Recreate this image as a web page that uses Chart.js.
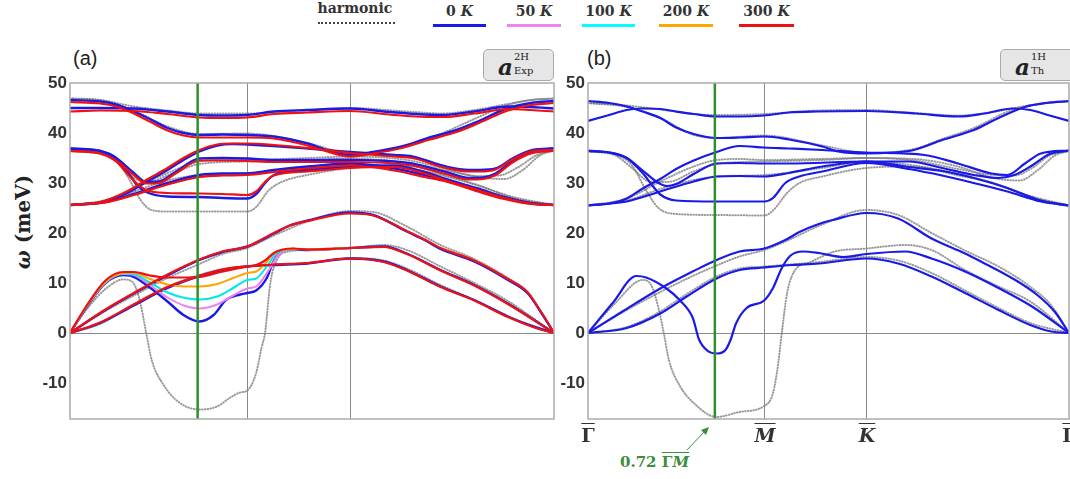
<!DOCTYPE html>
<html>
<head>
<meta charset="utf-8">
<script src="https://cdn.jsdelivr.net/npm/chart.js@4.4.1/dist/chart.umd.min.js"></script>
<style>
  body { margin: 0; width: 1070px; height: 479px; overflow: hidden; position: relative; background: #fff; }
  canvas { position: absolute; }
  .serif { font-family: "DejaVu Serif", serif; font-weight: bold; color: #333; }
  .lg { position: absolute; text-align: center; font-size: 14px; top: 3px; }
  .lg .bar { position: absolute; left: 0; right: 0; top: 21px; height: 3px; }
  .tag { position: absolute; top: 49px; height: 32px; background: #e6e6e6; border: 1px solid #aaa; border-radius: 5px; box-sizing: border-box; }
  .tag .a { position: absolute; left: 14px; top: 3px; font: italic bold 23px "DejaVu Serif", serif; color: #222; }
  .tag .sp { position: absolute; left: 30px; top: 1px; font: 10px "DejaVu Serif", serif; color: #222; }
  .tag .sb { position: absolute; left: 30px; top: 15px; font: 10px "DejaVu Serif", serif; color: #222; }
  .pl { position: absolute; top: 47px; font: 20px "Liberation Sans", Arial, sans-serif; color: #222; }
  .xl { position: absolute; top: 424px; transform: translateX(-50%); font-size: 19px; text-decoration: overline; }
</style>
</head>
<body>

<!-- legend -->
<div class="lg serif" style="left:315px;width:80px;top:0px;">harmonic
  <div style="position:absolute;left:3px;right:0;top:22px;border-top:2px dotted #444;"></div></div>
<div class="lg serif" style="left:433px;width:53px;">0 <i>K</i><div class="bar" style="background:#1a1ae6"></div></div>
<div class="lg serif" style="left:507px;width:54px;">50 <i>K</i><div class="bar" style="background:#ee82ee"></div></div>
<div class="lg serif" style="left:582px;width:53px;">100 <i>K</i><div class="bar" style="background:#00ffff"></div></div>
<div class="lg serif" style="left:659px;width:54px;">200 <i>K</i><div class="bar" style="background:#ffa500"></div></div>
<div class="lg serif" style="left:739px;width:55px;">300 <i>K</i><div class="bar" style="background:#ee1111"></div></div>

<div class="pl" style="left:73px;">(a)</div>
<div class="pl" style="left:587px;">(b)</div>

<div class="tag" style="left:483px;width:71px;"><span class="a">a</span><span class="sp">2H</span><span class="sb">Exp</span></div>
<div class="tag" style="left:1000px;width:76px;"><span class="a">a</span><span class="sp">1H</span><span class="sb">Th</span></div>

<div class="serif" style="position:absolute;left:23px;top:222px;transform:translate(-50%,-50%) rotate(-90deg);font-size:20px;white-space:nowrap;color:#222;"><i>ω</i> (meV)</div>

<canvas id="panelA" width="562" height="400" style="left:0;top:40px;"></canvas>
<canvas id="panelB" width="530" height="400" style="left:540px;top:40px;"></canvas>

<div class="xl serif" style="left:588px;">Γ</div>
<div class="xl serif" style="left:765px;"><i>M</i></div>
<div class="xl serif" style="left:867px;"><i>K</i></div>
<div class="xl serif" style="left:1069px;">Γ</div>

<div class="serif" style="position:absolute;left:620px;top:453px;font-size:15px;color:#3c8c3c;white-space:nowrap;">0.72 <span style="text-decoration:overline;">Γ<i>M</i></span></div>
<svg width="1070" height="479" style="position:absolute;left:0;top:0;pointer-events:none;">
  <line x1="687" y1="450" x2="705" y2="431" stroke="#3c8c3c" stroke-width="1"/>
  <polygon points="709,427 701,430 706,435" fill="#3c8c3c"/>
</svg>

<script>
// path: Γ (0) - M (1) - K (1.58) - Γ (2.73), energies in meV
const kTicks = [0, 1, 1.58, 2.73];
const kGreen = 0.72;
const yTicks = [-10, 0, 10, 20, 30, 40, 50];
const yMin = -17.2, yMax = 50;

// ---------- panel (a): a_Exp(2H) ----------
// harmonic
const aH_A1 = [[0,0],[0.17,1.8],[0.36,5.8],[0.55,9.3],[0.73,11.6],[0.86,12.8],[1.0,13.4],[1.34,14.0],[1.58,15.0],[1.77,14.5],[1.9,12.9],[2.09,9.6],[2.28,6.6],[2.47,3.3],[2.73,0]];
const aH_A3 = [[0,0],[0.2,4.4],[0.36,7.5],[0.55,11.0],[0.73,13.8],[0.86,15.8],[1.0,17.0],[1.15,19.5],[1.34,22.3],[1.58,24.4],[1.71,24.2],[1.9,21.3],[2.09,17.6],[2.28,14.8],[2.47,11.0],[2.58,8.2],[2.65,4.6],[2.73,0]];
const aH_soft = [[0,0],[0.1,5.0],[0.2,8.8],[0.3,10.7],[0.35,10.3],[0.39,7.0],[0.43,0],[0.46,-5.3],[0.53,-10.5],[0.62,-14.0],[0.73,-15.3],[0.83,-14.7],[0.9,-13.0],[0.96,-11.9],[1.0,-11.5],[1.05,-8.0],[1.08,-3.0],[1.1,0],[1.13,10],[1.17,14.8],[1.22,16.2],[1.34,16.6],[1.58,17.0],[1.77,17.6],[1.9,16.6],[2.09,13.3],[2.28,10.0],[2.47,6.4],[2.73,0]];
const aH_O1 = [[0,46.9],[0.17,46.6],[0.36,44.5],[0.55,41.3],[0.73,39.8],[1.0,39.9],[1.34,38.0],[1.58,36.0],[1.87,37.0],[2.09,39.8],[2.28,42.8],[2.47,45.6],[2.6,46.6],[2.73,46.9]];
const aH_O2 = [[0,46.9],[0.17,46.6],[0.36,45.3],[0.55,44.5],[0.73,43.9],[1.0,43.9],[1.34,44.6],[1.58,45.0],[1.9,44.3],[2.1,43.9],[2.28,44.6],[2.47,45.8],[2.6,46.6],[2.73,46.9]];
const aH_hump = [[0,25.6],[0.2,26.6],[0.36,29.0],[0.55,32.0],[0.73,34.3],[0.86,34.6],[1.0,34.6],[1.34,35.0],[1.58,35.3],[1.9,34.6],[2.12,32.8],[2.3,31.2],[2.45,30.8],[2.55,32.5],[2.65,35.5],[2.73,36.6]];
const aH_gentle = [[0,25.6],[0.2,26.4],[0.36,28.3],[0.55,30.5],[0.73,31.6],[1.0,32.0],[1.34,33.0],[1.58,33.8],[1.9,33.0],[2.12,31.3],[2.3,29.5],[2.5,27.2],[2.73,25.6]];
const aH_dip = [[0,36.6],[0.17,36.0],[0.26,34.5],[0.36,31.0],[0.45,30.3],[0.55,31.5],[0.73,33.8],[1.0,34.3],[1.34,34.6],[1.58,34.9],[1.9,34.0],[2.12,32.5],[2.3,31.4],[2.42,31.5],[2.52,33.0],[2.63,35.5],[2.73,36.6]];
const aH_drop = [[0,36.6],[0.17,36.2],[0.26,34.5],[0.33,31.0],[0.4,26.5],[0.46,24.6],[0.55,24.3],[0.73,24.3],[1.0,24.3],[1.05,25.2],[1.12,28.5],[1.2,30.3],[1.34,31.6],[1.58,33.0],[1.9,33.4],[2.12,31.5],[2.3,29.6],[2.5,27.0],[2.73,25.6]];

// 0 K
const aA1_0K = [[0,0],[0.17,2.0],[0.36,5.5],[0.55,9.0],[0.73,11.4],[0.86,12.6],[1.0,13.3],[1.15,13.6],[1.34,13.9],[1.58,14.9],[1.77,14.3],[1.9,12.6],[2.09,9.3],[2.28,6.6],[2.47,3.3],[2.62,1.2],[2.73,0]];
const aA3_0K = [[0,0],[0.2,4.6],[0.36,7.9],[0.55,11.5],[0.73,14.6],[0.86,16.2],[1.0,17.3],[1.07,18.4],[1.15,19.9],[1.24,21.5],[1.34,22.5],[1.58,24.1],[1.71,23.6],[1.9,20.3],[2.0,18.6],[2.09,16.8],[2.28,14.3],[2.47,10.6],[2.58,8.0],[2.65,4.5],[2.73,0]];
const aSoft_0K = [[0,0],[0.1,5.5],[0.2,10.0],[0.3,11.6],[0.34,11.5],[0.45,9.1],[0.55,6.3],[0.64,3.6],[0.73,2.3],[0.81,3.6],[0.88,6.6],[0.96,7.7],[1.0,8.0],[1.05,8.5],[1.11,11.0],[1.15,14.5],[1.2,16.4],[1.26,16.8],[1.34,16.6],[1.58,17.0],[1.77,17.3],[1.9,15.9],[2.09,12.6],[2.28,9.6],[2.47,5.9],[2.73,0]];
const aO1_0K = [[0,46.6],[0.17,46.3],[0.26,45.7],[0.36,44.3],[0.45,42.8],[0.55,41.0],[0.64,40.0],[0.73,39.6],[0.86,39.7],[1.0,39.6],[1.15,39.3],[1.34,37.9],[1.45,36.6],[1.58,35.6],[1.71,36.2],[1.87,37.3],[2.02,39.0],[2.18,40.6],[2.3,42.3],[2.47,45.0],[2.6,46.0],[2.73,46.4]];
const aO2_0K = [[0,45.0],[0.17,45.0],[0.36,44.9],[0.55,44.3],[0.73,43.6],[0.86,43.5],[1.0,43.6],[1.15,44.3],[1.34,44.6],[1.58,44.9],[1.8,44.2],[1.95,43.8],[2.1,43.6],[2.28,44.3],[2.47,45.3],[2.6,45.2],[2.73,44.9]];
const aHump_0K = [[0,25.6],[0.17,26.1],[0.3,27.6],[0.45,30.6],[0.55,32.6],[0.64,34.6],[0.73,36.3],[0.83,37.5],[0.92,37.8],[1.0,37.7],[1.15,37.4],[1.34,36.9],[1.58,36.2],[1.83,35.6],[1.93,35.3],[2.12,33.3],[2.25,32.6],[2.31,32.6],[2.4,32.9],[2.5,35.0],[2.61,36.6],[2.73,36.9]];
const aDip_0K = [[0,36.9],[0.17,36.4],[0.26,35.0],[0.36,32.0],[0.43,30.2],[0.5,30.3],[0.6,32.3],[0.73,34.9],[0.86,35.0],[1.0,34.9],[1.15,34.6],[1.34,34.6],[1.58,34.6],[1.83,34.3],[1.93,33.9],[2.12,32.2],[2.25,31.0],[2.33,31.1],[2.4,31.9],[2.5,34.5],[2.6,36.3],[2.73,36.9]];
const aGentle_0K = [[0,25.6],[0.2,26.2],[0.36,27.8],[0.55,30.0],[0.73,31.6],[0.86,31.9],[1.0,31.9],[1.15,32.6],[1.34,33.3],[1.58,33.9],[1.83,32.9],[2.0,31.6],[2.12,30.6],[2.3,28.6],[2.45,27.0],[2.6,25.9],[2.73,25.6]];
const aDrop_0K = [[0,36.9],[0.17,36.4],[0.26,35.0],[0.33,32.0],[0.38,29.5],[0.43,28.2],[0.55,27.3],[0.73,27.2],[0.86,27.0],[1.0,26.9],[1.05,27.8],[1.1,30.0],[1.15,31.6],[1.34,32.6],[1.58,33.3],[1.83,33.5],[2.0,32.2],[2.12,30.8],[2.3,28.9],[2.45,27.2],[2.6,26.0],[2.73,25.6]];

// 50 K, 100 K, 200 K (soft branch)
const aSoft_50K = [[0,0],[0.1,5.6],[0.2,10.1],[0.3,11.8],[0.36,11.6],[0.45,9.6],[0.55,7.1],[0.65,5.4],[0.73,4.9],[0.83,5.7],[0.92,7.5],[1.0,8.9],[1.05,9.3],[1.12,12.5],[1.17,15.4],[1.22,16.6],[1.3,16.8],[1.4,16.7],[1.58,17.0]];
const aSoft_100K = [[0,0],[0.1,5.7],[0.2,10.2],[0.3,11.9],[0.36,11.8],[0.45,10.1],[0.55,8.1],[0.65,7.0],[0.73,6.7],[0.83,7.3],[0.92,9.0],[1.0,10.6],[1.05,10.9],[1.11,13.3],[1.16,15.8],[1.22,16.6],[1.3,16.8],[1.4,16.7],[1.58,17.0]];
const aSoft_200K = [[0,0],[0.1,5.7],[0.2,10.3],[0.3,12.0],[0.36,12.1],[0.45,10.8],[0.55,9.7],[0.65,9.3],[0.73,9.3],[0.83,9.8],[0.92,11.0],[1.0,12.0],[1.05,12.3],[1.1,13.8],[1.15,15.9],[1.22,16.7],[1.3,16.8],[1.4,16.7],[1.58,17.0]];

// 300 K
const aA1_300K = [[0,0],[0.17,2.1],[0.36,5.7],[0.55,9.2],[0.73,11.4],[0.86,12.7],[1.0,13.3],[1.15,13.7],[1.34,14.0],[1.58,14.9],[1.77,14.2],[1.9,12.5],[2.09,9.2],[2.28,6.5],[2.47,3.2],[2.62,1.1],[2.73,0]];
const aA3_300K = [[0,0],[0.2,4.7],[0.36,8.0],[0.55,11.7],[0.73,14.7],[0.86,16.3],[1.0,17.3],[1.07,18.5],[1.15,20.0],[1.24,21.5],[1.34,22.4],[1.58,23.9],[1.71,23.5],[1.9,20.4],[2.0,18.7],[2.09,17.0],[2.28,14.5],[2.47,10.8],[2.58,8.2],[2.65,4.6],[2.73,0]];
const aSoft_300K = [[0,0],[0.1,5.8],[0.2,10.5],[0.3,12.2],[0.36,12.2],[0.45,11.5],[0.55,11.1],[0.73,11.2],[0.85,12.2],[1.0,13.3],[1.05,13.6],[1.1,14.5],[1.15,16.0],[1.2,16.7],[1.26,16.9],[1.34,16.7],[1.58,17.0],[1.77,17.2],[1.9,15.8],[2.09,12.5],[2.28,9.5],[2.47,5.8],[2.73,0]];
const aO1_300K = [[0,46.2],[0.17,45.9],[0.26,45.3],[0.36,43.9],[0.45,42.3],[0.55,40.5],[0.64,39.5],[0.73,39.1],[0.86,39.1],[1.0,39.1],[1.15,38.9],[1.34,37.5],[1.45,36.3],[1.58,35.3],[1.71,35.9],[1.87,37.0],[2.02,38.6],[2.18,40.2],[2.3,41.9],[2.47,44.5],[2.6,45.6],[2.73,46.0]];
const aO2_300K = [[0,44.3],[0.17,44.5],[0.36,44.4],[0.55,43.8],[0.73,43.1],[0.86,43.0],[1.0,43.1],[1.15,43.8],[1.34,44.1],[1.58,44.4],[1.8,43.7],[1.95,43.3],[2.1,43.2],[2.28,43.9],[2.47,44.8],[2.6,44.6],[2.73,44.3]];
const aHump_300K = [[0,25.6],[0.17,26.2],[0.3,27.9],[0.45,31.0],[0.55,33.0],[0.64,35.0],[0.73,36.6],[0.83,37.7],[0.92,37.9],[1.0,37.9],[1.15,37.6],[1.34,37.0],[1.58,36.0],[1.83,35.3],[1.93,35.0],[2.12,33.0],[2.25,32.3],[2.31,32.3],[2.4,32.7],[2.5,34.8],[2.61,36.4],[2.73,36.6]];
const aDip_300K = [[0,36.4],[0.17,35.9],[0.26,34.5],[0.36,31.6],[0.43,29.9],[0.5,30.0],[0.6,32.0],[0.73,34.5],[0.86,34.5],[1.0,34.4],[1.15,34.2],[1.34,34.2],[1.58,34.2],[1.83,33.9],[1.93,33.5],[2.12,31.8],[2.25,30.7],[2.33,30.8],[2.4,31.6],[2.5,34.2],[2.6,35.9],[2.73,36.4]];
const aGentle_300K = [[0,25.6],[0.2,26.1],[0.36,27.6],[0.55,29.7],[0.73,31.2],[0.86,31.5],[1.0,31.6],[1.15,32.2],[1.34,32.9],[1.58,33.5],[1.83,32.5],[2.0,31.2],[2.12,30.3],[2.3,28.3],[2.45,26.8],[2.6,25.8],[2.73,25.6]];
const aDrop_300K = [[0,36.4],[0.17,35.9],[0.26,34.3],[0.33,31.6],[0.38,29.8],[0.43,28.6],[0.55,28.0],[0.73,27.9],[0.86,27.8],[1.0,27.6],[1.05,28.3],[1.1,30.2],[1.15,31.5],[1.34,32.3],[1.58,33.0],[1.83,33.2],[2.0,31.9],[2.12,30.5],[2.3,28.6],[2.45,27.0],[2.6,25.9],[2.73,25.6]];

// ---------- panel (b): a_Th(1H) ----------
const bH_A1 = [[0,0],[0.22,1.2],[0.41,4.3],[0.56,7.8],[0.73,11.3],[0.86,12.9],[1.0,13.3],[1.31,14.2],[1.58,15.2],[1.76,14.5],[1.95,12.0],[2.14,8.5],[2.33,5.0],[2.51,2.0],[2.73,0]];
const bH_A3 = [[0,0],[0.2,4.2],[0.41,8.2],[0.6,11.5],[0.73,13.5],[0.86,15.3],[1.0,16.6],[1.12,18.3],[1.31,21.4],[1.58,24.6],[1.76,23.6],[1.95,20.0],[2.14,16.5],[2.33,13.3],[2.5,9.5],[2.63,5.5],[2.73,0]];
const bH_soft = [[0,0],[0.15,5.8],[0.31,10.6],[0.36,9.5],[0.4,5.0],[0.43,0],[0.46,-5.5],[0.52,-10.5],[0.6,-14.0],[0.73,-16.8],[0.86,-15.8],[1.0,-14.6],[1.05,-12.0],[1.08,-6.0],[1.1,0],[1.13,8],[1.18,12.8],[1.25,14.0],[1.31,15.0],[1.4,16.3],[1.58,16.9],[1.8,17.6],[1.95,16.6],[2.14,12.6],[2.33,9.3],[2.51,6.3],[2.73,0]];
const bH_O1 = [[0,46.0],[0.22,45.2],[0.41,43.0],[0.6,39.6],[0.73,39.0],[1.0,39.5],[1.33,37.5],[1.58,36.0],[1.85,36.8],[2.01,38.8],[2.19,41.0],[2.4,44.5],[2.6,46.0],[2.73,46.3]];
const bH_O2 = [[0,46.0],[0.22,45.5],[0.41,44.7],[0.6,43.8],[0.73,43.6],[1.0,43.8],[1.3,44.5],[1.58,44.6],[1.86,44.0],[2.1,43.5],[2.3,44.2],[2.45,45.2],[2.6,46.0],[2.73,46.3]];
const bH_hump = [[0,25.5],[0.22,26.9],[0.41,30.3],[0.6,33.3],[0.73,34.6],[0.86,34.8],[1.0,34.6],[1.3,34.8],[1.58,35.0],[1.85,34.8],[2.1,33.3],[2.3,31.0],[2.45,30.5],[2.55,32.5],[2.65,35.5],[2.73,36.5]];
const bH_gentle = [[0,25.5],[0.22,26.5],[0.41,28.8],[0.6,30.6],[0.73,31.3],[1.0,31.6],[1.33,33.0],[1.58,34.3],[1.85,33.5],[2.1,31.8],[2.3,30.0],[2.5,27.5],[2.73,25.5]];
const bH_dip = [[0,36.3],[0.15,35.6],[0.25,33.0],[0.35,30.3],[0.45,30.2],[0.6,32.3],[0.73,33.8],[1.0,34.3],[1.33,34.6],[1.58,35.0],[1.85,34.5],[2.1,32.8],[2.3,31.6],[2.42,31.5],[2.52,33.0],[2.62,35.5],[2.73,36.3]];
const bH_drop = [[0,36.3],[0.15,35.8],[0.25,33.5],[0.33,28.5],[0.4,25.0],[0.5,23.8],[0.73,23.6],[1.0,23.5],[1.05,24.5],[1.13,28.0],[1.2,30.0],[1.33,31.3],[1.58,33.0],[1.85,33.3],[2.1,31.5],[2.3,30.0],[2.5,27.3],[2.73,25.5]];

const bA1 = [[0,0],[0.22,1.0],[0.41,3.9],[0.56,7.3],[0.73,10.9],[0.86,12.6],[1.0,13.1],[1.16,13.6],[1.31,13.9],[1.58,14.9],[1.76,13.9],[1.95,11.3],[2.14,8.0],[2.33,4.6],[2.51,1.6],[2.63,0.3],[2.73,0]];
const bA3 = [[0,0],[0.2,4.4],[0.41,8.9],[0.6,12.4],[0.73,14.6],[0.86,16.3],[1.0,16.9],[1.12,18.6],[1.2,20.2],[1.31,21.8],[1.39,22.6],[1.58,24.0],[1.76,22.9],[1.95,18.9],[2.14,15.9],[2.23,14.3],[2.42,10.7],[2.55,7.6],[2.65,4.2],[2.73,0]];
const bSoft = [[0,0],[0.14,6.0],[0.275,11.4],[0.33,11.1],[0.445,8.9],[0.52,6.6],[0.595,3.0],[0.63,-1.3],[0.68,-3.6],[0.73,-4.1],[0.78,-3.4],[0.81,-1.3],[0.84,1.9],[0.9,5.0],[1.0,6.5],[1.05,9.0],[1.1,13.0],[1.15,15.5],[1.22,16.3],[1.31,16.0],[1.45,15.2],[1.58,15.8],[1.8,16.3],[1.95,14.9],[2.14,12.3],[2.33,9.0],[2.52,5.3],[2.73,0]];
const bO1 = [[0,46.4],[0.12,46.0],[0.22,45.3],[0.31,44.3],[0.41,43.0],[0.5,41.1],[0.6,39.8],[0.73,39.0],[0.86,39.1],[1.0,39.3],[1.14,38.7],[1.33,37.3],[1.42,36.3],[1.58,35.9],[1.73,36.1],[1.85,36.6],[2.01,38.6],[2.19,40.6],[2.33,43.0],[2.48,45.2],[2.6,46.0],[2.73,46.4]];
const bO2 = [[0,42.4],[0.12,43.6],[0.22,44.6],[0.31,44.9],[0.41,44.8],[0.5,44.3],[0.6,43.8],[0.73,43.3],[0.86,43.3],[1.0,43.5],[1.14,44.1],[1.3,44.3],[1.58,44.4],[1.86,43.9],[2.1,43.3],[2.25,43.9],[2.41,44.9],[2.51,44.6],[2.62,43.5],[2.73,42.4]];
const bHump = [[0,25.5],[0.12,25.9],[0.22,26.9],[0.31,28.9],[0.41,30.8],[0.5,32.8],[0.6,34.5],[0.73,36.2],[0.86,37.4],[1.0,37.1],[1.14,36.9],[1.33,36.6],[1.58,36.1],[1.91,35.6],[2.1,33.9],[2.29,31.9],[2.38,31.6],[2.48,33.9],[2.57,35.9],[2.73,36.5]];
const bGentle = [[0,25.5],[0.22,26.3],[0.41,28.3],[0.6,30.3],[0.73,31.3],[0.86,31.4],[1.0,31.3],[1.14,32.0],[1.33,33.3],[1.58,34.3],[1.82,33.2],[2.01,32.4],[2.19,31.0],[2.38,29.0],[2.57,26.5],[2.73,25.5]];
const bDip = [[0,36.5],[0.12,36.1],[0.22,35.0],[0.31,32.5],[0.4,30.0],[0.45,29.4],[0.5,29.8],[0.6,31.8],[0.73,33.9],[0.86,34.0],[1.0,33.9],[1.14,33.9],[1.58,34.3],[1.82,34.3],[2.01,33.0],[2.19,31.6],[2.33,31.0],[2.42,31.6],[2.52,33.5],[2.62,35.8],[2.73,36.5]];
const bDrop = [[0,36.4],[0.12,36.1],[0.22,35.0],[0.31,32.0],[0.37,29.3],[0.41,27.7],[0.5,26.5],[0.73,26.3],[1.0,26.3],[1.05,27.0],[1.12,30.0],[1.2,31.3],[1.33,32.3],[1.58,34.0],[1.82,32.8],[2.01,31.5],[2.19,30.0],[2.38,28.3],[2.57,26.3],[2.73,25.5]];

// ---------- drawing ----------
const harmonicStyle = { color: 'rgba(120,120,120,0.75)', width: 2, dash: [0.6, 2.2], order: 9 };

function bandSet(bands, color, width, dash, order) {
    return bands.map(b => ({
        data: b.map(([x, y]) => ({ x, y })),
        borderColor: color,
        borderWidth: width,
        borderDash: dash,
        borderCapStyle: dash.length ? 'round' : 'butt',
        pointRadius: 0,
        fill: false,
        cubicInterpolationMode: 'monotone',
        order: order
    }));
}

const panelDecor = {
    id: 'panelDecor',
    beforeDatasetsDraw(chart) {
        const { ctx, chartArea: a, scales: { x, y } } = chart;
        ctx.save();
        ctx.strokeStyle = '#8a8a8a';
        ctx.lineWidth = 1;
        ctx.beginPath();
        const y0 = Math.round(y.getPixelForValue(0)) + 0.5;
        ctx.moveTo(a.left, y0); ctx.lineTo(a.right, y0);
        kTicks.slice(1, 3).forEach(k => {
            const px = Math.round(x.getPixelForValue(k)) + 0.5;
            ctx.moveTo(px, a.top); ctx.lineTo(px, a.bottom);
        });
        ctx.stroke();
        ctx.restore();
    },
    afterDatasetsDraw(chart) {
        const { ctx, chartArea: a, scales: { x } } = chart;
        ctx.save();
        // green cut at 0.72 ΓM
        ctx.strokeStyle = '#2f8f2f';
        ctx.lineWidth = 2.5;
        const gx = x.getPixelForValue(kGreen);
        ctx.beginPath(); ctx.moveTo(gx, a.top); ctx.lineTo(gx, a.bottom); ctx.stroke();
        // frame
        ctx.strokeStyle = '#ababab';
        ctx.lineWidth = 1.5;
        ctx.strokeRect(a.left, a.top, a.right - a.left, a.bottom - a.top);
        ctx.restore();
    }
};

function makePanel(id, datasets, axisWidth, padRight) {
    return new Chart(document.getElementById(id), {
        type: 'line',
        data: { datasets },
        options: {
            responsive: false,
            animation: false,
            devicePixelRatio: 1,
            layout: { padding: { top: 43, bottom: 21, left: 0, right: padRight } },
            plugins: { legend: { display: false }, tooltip: { enabled: false } },
            scales: {
                x: { type: 'linear', min: kTicks[0], max: kTicks[3], display: false },
                y: {
                    type: 'linear', min: yMin, max: yMax,
                    afterFit: s => { s.width = axisWidth; },
                    afterBuildTicks: s => { s.ticks = yTicks.map(v => ({ value: v })); },
                    grid: { display: false, drawTicks: false },
                    border: { display: false },
                    ticks: {
                        padding: 3,
                        color: '#333',
                        font: { family: '"Liberation Sans", Arial, sans-serif', size: 17, weight: 'bold' }
                    }
                }
            }
        },
        plugins: [panelDecor]
    });
}

const hs = harmonicStyle;
makePanel('panelA', [
    ...bandSet([aH_A1, aH_A3, aH_soft, aH_O1, aH_O2, aH_hump, aH_gentle, aH_dip, aH_drop], hs.color, hs.width, hs.dash, hs.order),
    ...bandSet([aA1_0K, aA3_0K, aSoft_0K, aO1_0K, aO2_0K, aHump_0K, aDip_0K, aGentle_0K, aDrop_0K], '#1a1ae6', 2.4, [], 5),
    ...bandSet([aSoft_50K], '#ee82ee', 2, [], 4),
    ...bandSet([aSoft_100K], '#00e8e8', 2, [], 3),
    ...bandSet([aSoft_200K], '#ffa500', 2, [], 2),
    ...bandSet([aA1_300K, aA3_300K, aSoft_300K, aO1_300K, aO2_300K, aHump_300K, aDip_300K, aGentle_300K, aDrop_300K], '#ee1111', 2.2, [], 1)
], 70, 8);

makePanel('panelB', [
    ...bandSet([bH_A1, bH_A3, bH_soft, bH_O1, bH_O2, bH_hump, bH_gentle, bH_dip, bH_drop], hs.color, hs.width, hs.dash, hs.order),
    ...bandSet([bA1, bA3, bSoft, bO1, bO2, bHump, bGentle, bDip, bDrop], '#1a1ae6', 2.2, [], 5)
], 48, 1);
</script>
</body>
</html>
